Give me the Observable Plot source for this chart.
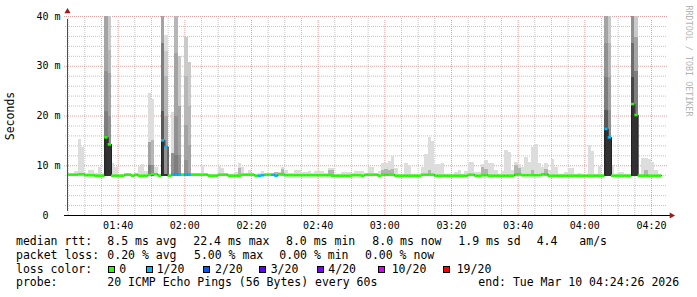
<!DOCTYPE html>
<html>
<head>
<meta charset="utf-8">
<script src="https://cdn.jsdelivr.net/npm/d3@7"></script>
<script src="https://cdn.jsdelivr.net/npm/@observablehq/plot@0.6"></script>
<style>
  html, body { margin: 0; padding: 0; background: #ffffff; }
  #chart { position: relative; width: 697px; height: 297px; background: #ffffff; overflow: hidden; }
  #chart svg text { white-space: pre; }
  .lg { position: absolute; font-family: "DejaVu Sans Mono", monospace; font-size: 11.5px; line-height: 12px; white-space: pre; color: #000; }
  .bx { position: absolute; width: 5px; height: 5px; border: 1px solid #000; }
</style>
</head>
<body>
<div id="chart"></div>
<script>
// ---------------- data ----------------
const windowStart = "01:24:48";     // left edge of the time axis
const windowMinutes = 180;
const firstStep = "01:25";          // first one-minute step

// median RTT per minute (ms)
const medianMs = [
  8.2, 8.2, 8.2, 8.3, 8.3, 8.1, 8.1, 8.1, 8.0, 8.0,
  8.0, 15.7, 14.3, 8.0, 8.0, 8.0, 8.0, 8.2, 8.2, 8.0,
  8.2, 8.0, 8.0, 8.0, 8.2, 8.3, 8.3, 8.0, 15.1, 13.8,
  8.0, 8.2, 8.2, 8.2, 8.2, 8.2, 8.2, 8.2, 8.2, 8.2,
  8.2, 8.2, 8.0, 8.0, 8.0, 8.2, 8.2, 8.2, 8.0, 8.0,
  8.0, 8.0, 8.2, 8.2, 8.2, 8.2, 8.0, 8.0, 8.1, 8.2,
  8.2, 8.2, 8.0, 8.3, 8.3, 8.1, 8.1, 8.1, 8.1, 8.1,
  8.1, 8.1, 8.1, 8.1, 8.1, 8.1, 8.1, 8.1, 8.1, 8.0,
  8.0, 8.0, 8.0, 8.0, 8.0, 8.1, 8.1, 8.1, 8.0, 8.2,
  8.2, 8.2, 8.2, 8.0, 8.2, 8.2, 8.2, 8.2, 8.0, 8.0,
  8.0, 8.0, 8.0, 8.0, 8.0, 8.0, 8.2, 8.2, 8.2, 8.2,
  8.0, 8.0, 8.0, 8.0, 8.0, 8.0, 8.0, 8.0, 8.0, 8.0,
  8.2, 8.2, 8.0, 8.0, 8.1, 8.1, 8.0, 8.0, 8.0, 8.0,
  8.0, 8.0, 8.0, 8.0, 8.3, 8.3, 8.1, 8.1, 8.1, 8.1,
  8.1, 8.1, 8.3, 8.3, 8.0, 8.0, 8.0, 8.0, 8.0, 8.0,
  8.0, 8.0, 8.0, 8.0, 8.0, 8.0, 8.0, 8.0, 8.0, 8.0,
  8.0, 17.4, 15.7, 8.0, 8.0, 8.0, 8.0, 8.0, 8.0, 22.4,
  20.2, 8.0, 8.0, 8.0, 8.0, 8.0, 8.0, 8.0
];

// slowest ping per minute (top of the light smoke), ms
const maxMs = [
  8.4, 8.4, 8.8, 15.3, 13.7, 8.4, 9.0, 9.0, 8.4, 9.7,
  8.4, 48, 45, 10.4, 9.7, 8.3, 8.3, 8.5, 8.5, 8.3,
  8.5, 9.8, 10.3, 8.8, 24.5, 23.4, 9.7, 8.3, 45, 36.2,
  8.3, 20.8, 45, 32, 8.5, 35.8, 30.8, 8.5, 8.5, 8.5,
  10.1, 8.5, 8.3, 8.3, 8.3, 9.8, 9.5, 8.5, 8.3, 8.3,
  8.7, 10.5, 9.7, 8.5, 9.0, 8.5, 8.3, 8.4, 8.9, 8.5,
  8.5, 8.5, 8.7, 8.6, 9.7, 9.0, 8.4, 8.4, 9.0, 9.0,
  8.6, 8.6, 8.9, 8.4, 8.9, 8.9, 8.9, 8.4, 9.5, 9.5,
  8.3, 8.3, 8.6, 8.6, 8.6, 8.4, 8.8, 8.8, 8.8, 8.4,
  9.7, 9.7, 8.5, 8.8, 10.4, 10.4, 10.9, 11.9, 9.5, 8.3,
  8.3, 10.5, 10.1, 8.3, 8.3, 8.3, 9.7, 12.3, 15.7, 14.9,
  10.3, 10.3, 10.5, 8.3, 8.3, 8.3, 8.7, 9.0, 8.3, 8.9,
  10.7, 10.7, 8.6, 8.6, 10.3, 11.1, 10.4, 10.4, 9.1, 8.3,
  8.8, 13.1, 12.7, 9.0, 10.7, 10.2, 9.7, 11.7, 10.7, 13.7,
  14.3, 10.4, 9.7, 10.5, 9.0, 11.3, 9.7, 8.3, 8.3, 8.7,
  9.4, 9.4, 8.3, 8.5, 8.3, 8.3, 14.1, 12.9, 8.3, 9.9,
  8.3, 46, 45, 10.1, 8.3, 8.7, 8.6, 8.3, 8.3, 48,
  45, 8.3, 11.5, 11.5, 11.2, 10.7, 9.0, 8.3
];

// a second (darker) smoke layer on some quiet minutes
const midMinute = [51, 62, 64, 78, 79, 94, 95, 96, 97, 108, 124, 125, 134, 135, 139, 143, 173];
const midMs     = [9.5, 8.6, 9.2, 9.0, 9.0, 9.0, 9.2, 9.0, 9.2, 9.0, 9.7, 9.3, 10.0, 9.5, 9.0, 9.3, 9.0];

// minutes with a wide ping spread: tops of the inner smoke bands (2nd .. 10th pair), ms
const spikeMinute = [11, 12, 24, 25, 28, 29, 31, 32, 33, 35, 36, 161, 162, 169, 170];
const spikeInnerMs = [
  [48, 48, 48, 29, 21, 15.7, 15.7, 15.7, 15.7],
  [45, 33.2, 28.5, 19.8, 14.4, 14.4, 14.4, 14.3, 14.3],
  [14.7, 14.7, 14.7, 10, 10, 8.5, 8.4, 8.3, 8.2],
  [15, 15, 10, 10, 8.5, 8.4, 8.3, 8.3, 8.3],
  [45, 45, 45, 34.5, 34.5, 21, 21, 15.1, 15.1],
  [33, 28, 20, 13.8, 8.3, 8.3, 8.2, 8.2, 8.2],
  [12.4, 12.4, 12.4, 12.4, 8.4, 8.3, 8.3, 8.2, 8.2],
  [45, 45, 32.5, 20, 12, 8.4, 8.3, 8.2, 8.2],
  [32, 22, 22, 12, 8.4, 8.3, 8.3, 8.2, 8.2],
  [35.8, 28, 18, 11, 8.4, 8.3, 8.3, 8.2, 8.2],
  [30.8, 22, 14, 8.4, 8.3, 8.3, 8.2, 8.2, 8.2],
  [46, 46, 46, 34.5, 27.8, 21.1, 21.1, 17.4, 17.4],
  [45, 34.5, 27.8, 21.1, 15.7, 15.7, 15.7, 15.7, 15.7],
  [48, 48, 48, 48, 34.5, 34.5, 27.8, 27.8, 22.4],
  [45, 35.8, 35.8, 29, 29, 20.2, 20.2, 20.2, 20.2]
];

// lost pings (out of 20)
const lossMinute = [28, 29, 31, 32, 33, 35, 36, 57, 58, 61, 62, 161, 162];
const lossCount  = [1, 1, 1, 1, 1, 1, 1, 1, 1, 1, 1, 1, 1];

const xTickLabels = ["01:40", "02:00", "02:20", "02:40", "03:00", "03:20", "03:40", "04:00", "04:20"];
const yTickValues = [0, 10, 20, 30, 40];
const yTickLabels = ["0  ", "10 m", "20 m", "30 m", "40 m"];
const yAxisTitle = "Seconds";
const watermark = "RRDTOOL / TOBI OETIKER";

const rttStats  = ["median rtt:", "8.5 ms avg", "22.4 ms max", "8.0 ms min", "8.0 ms now", "1.9 ms sd", "4.4", "am/s"];
const lossStats = ["packet loss:", "0.20 % avg", "5.00 % max", "0.00 % min", "0.00 % now"];
const lossLegendTitle  = "loss color:";
const lossLegendLabels = ["0", "1/20", "2/20", "3/20", "4/20", "10/20", "19/20"];
const lossLegendCounts = [0, 1, 2, 3, 4, 10, 19];
const lossLegendColors = ["#26ff00", "#00b8ff", "#0059ff", "#5e00ff", "#7e00ff", "#dd00ff", "#ff0000"];
const probeLine = ["probe:", "20 ICMP Echo Pings (56 Bytes) every 60s", "end: Tue Mar 10 04:24:26 2026"];

// ---------------- derived tables ----------------
const toMin = s => { const [h, m, sec = 0] = s.split(":").map(Number); return h * 60 + m + sec / 60; };
const xStart = toMin(windowStart), xEnd = xStart + windowMinutes;
const t0 = toMin(firstStep);
const lossColor = n => { let c = lossLegendColors[0]; lossLegendCounts.forEach((v, i) => { if (n >= v) c = lossLegendColors[i]; }); return c; };

const steps = medianMs.map((m, i) => ({t1: t0 + i, t2: t0 + i + 1, median: m, max: maxMs[i], loss: 0}));
lossMinute.forEach((i, j) => { steps[i].loss = lossCount[j]; });
const midRows = midMinute.map((i, j) => ({t1: t0 + i, t2: t0 + i + 1, top: midMs[j]}));
// SmokePing shading: outer ping pair light, inner pairs darker
const shade = ibot => { const g = Math.round(190 / 10 * (10 - ibot) + 50); return `rgb(${g},${g},${g})`; };
const spikeRows = [];
spikeMinute.forEach((i, j) => spikeInnerMs[j].forEach((top, k) =>
  spikeRows.push({t1: t0 + i, t2: t0 + i + 1, top, ibot: k + 2, fill: shade(k + 2)})));
spikeRows.sort((a, b) => a.ibot - b.ibot);
const linePts = steps.map(d => ({t: d.t1, v: d.median}));
linePts.push({t: steps[steps.length - 1].t2, v: steps[steps.length - 1].median});

const majorX = xTickLabels.map(toMin);
const minorX = d3.range(Math.ceil(xStart / 5) * 5, xEnd, 5).filter(v => v % 20 !== 0);
const majorY = [10, 20, 30, 40];
const minorY = d3.range(2, 40, 2).filter(v => v % 10 !== 0);
const yTicks = yTickValues.map((v, i) => ({v, label: yTickLabels[i]}));

const font = "DejaVu Sans Mono";
const smokeBase = 7.8;

const svg = Plot.plot({
  width: 697, height: 232,
  marginLeft: 67, marginRight: 30, marginTop: 16, marginBottom: 17,
  x: {domain: [xStart, xEnd], axis: null},
  y: {domain: [0, 40], axis: null},
  color: {type: "identity"},
  style: {background: "#ffffff", fontFamily: font, overflow: "visible"},
  marks: [
    Plot.ruleX(minorX, {y1: 0, y2: 40, stroke: "#c4c4c4", strokeDasharray: "1,1", insetBottom: -2}),
    Plot.ruleY(minorY, {x1: xStart, x2: xEnd, stroke: "#c4c4c4", strokeDasharray: "1,1", insetLeft: -2}),
    Plot.ruleX(majorX, {y1: 0, y2: 40, stroke: "#e4a0a0", strokeDasharray: "1,1", insetBottom: -3}),
    Plot.ruleY(majorY, {x1: xStart, x2: xEnd, stroke: "#e4a0a0", strokeDasharray: "1,1", insetLeft: -3}),
    Plot.rect(steps, {x1: "t1", x2: "t2", y1: smokeBase, y2: "max", fill: "#dddddd", clip: true, shapeRendering: "crispEdges"}),
    Plot.rect(midRows, {x1: "t1", x2: "t2", y1: smokeBase, y2: "top", fill: "#b4b4b4", clip: true, shapeRendering: "crispEdges"}),
    Plot.rect(spikeRows, {x1: "t1", x2: "t2", y1: smokeBase, y2: "top", fill: "fill", clip: true, shapeRendering: "crispEdges"}),
    Plot.line(linePts, {x: "t", y: "v", curve: "step-after", stroke: "#202020", strokeWidth: 1, clip: true}),
    Plot.ruleY(steps, {x1: "t1", x2: "t2", y: "median", stroke: d => lossColor(d.loss), strokeWidth: 2.6, clip: true}),
    // axes
    Plot.ruleY([0], {x1: xStart, x2: xEnd, stroke: "#000", insetLeft: -3, insetRight: -3}),
    Plot.ruleX([xStart], {y1: 0, y2: 40, stroke: "#505050", insetTop: -4, insetBottom: -3}),
    Plot.dot([xEnd], {x: d => d, y: 0, symbol: "triangle", rotate: 90, r: 2.3, fill: "#a01818", stroke: null, dx: 4}),
    Plot.dot([40], {x: xStart, y: d => d, symbol: "triangle", r: 2.3, fill: "#a01818", stroke: null, dy: -5}),
    // tick labels
    Plot.text(xTickLabels, {x: d => toMin(d), y: 0, dy: 10, text: d => d, fontSize: 10, fill: "#000", fontFamily: font}),
    Plot.text(yTicks, {x: xStart, y: "v", text: "label", textAnchor: "end", dx: -7, fontSize: 10, fill: "#000", fontFamily: font}),
    Plot.text([yAxisTitle], {frameAnchor: "left", dx: -57, rotate: -90, textAnchor: "middle", lineAnchor: "middle", fontSize: 11.5, fill: "#000", fontFamily: font}),
    Plot.text([watermark], {frameAnchor: "top-right", dx: 21, dy: -11, rotate: 90, textAnchor: "start", lineAnchor: "middle", fontSize: 8.4, fill: "#b4b4b4", fontFamily: font})
  ]
});

const chart = document.getElementById("chart");
chart.appendChild(svg);

// ---------------- legend (below the svg) ----------------
const addText = (text, x, yc) => {
  const s = document.createElement("span");
  s.className = "lg"; s.textContent = text;
  s.style.left = x + "px"; s.style.top = (yc - 6.5) + "px";
  chart.appendChild(s);
};
const addBox = (color, x, yc) => {
  const b = document.createElement("span");
  b.className = "bx"; b.style.background = color;
  b.style.left = x + "px"; b.style.top = (yc - 3.5) + "px";
  chart.appendChild(b);
};
const rowY = [241, 255, 269, 282.5];
const rttX = [16, 107.3, 193.3, 286, 372.3, 458.3, 536.7, 579.3];
const lossX = [16, 107.3, 194, 279.3, 365];
const boxX = [108.3, 146, 203.3, 259.3, 316.7, 377.7, 442.7];
const boxLabelX = [119.3, 156.7, 215, 270.7, 328.3, 391.7, 456.7];
const probeX = [16, 107.3, 478.3];
rttStats.forEach((t, i) => addText(t, rttX[i], rowY[0]));
lossStats.forEach((t, i) => addText(t, lossX[i], rowY[1]));
addText(lossLegendTitle, 16, rowY[2]);
lossLegendLabels.forEach((t, i) => { addBox(lossLegendColors[i], boxX[i], rowY[2]); addText(t, boxLabelX[i], rowY[2]); });
probeLine.forEach((t, i) => addText(t, probeX[i], rowY[3]));
</script>
</body>
</html>
